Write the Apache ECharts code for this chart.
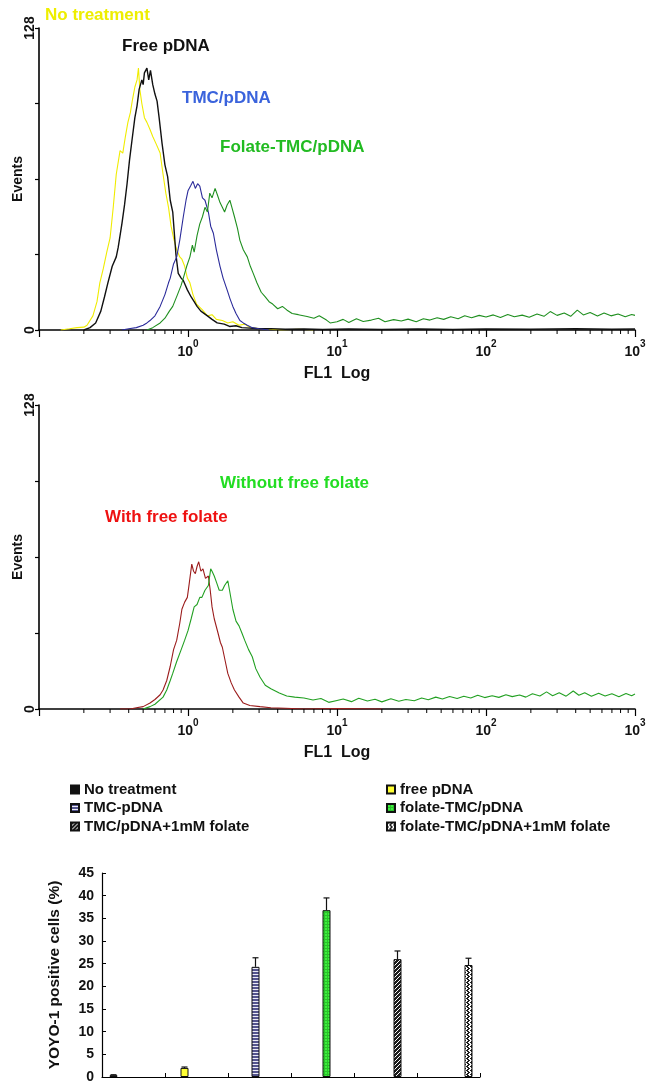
<!DOCTYPE html>
<html>
<head>
<meta charset="utf-8">
<script src="https://cdn.jsdelivr.net/npm/echarts@6/dist/echarts.min.js"></script>
<style>
  html, body { margin: 0; padding: 0; background: #fff; }
  #chart { width: 652px; height: 1082px; }
</style>
</head>
<body>
<div id="chart"></div>
<script>
// ---- histogram data: [FL1 value, events] ----
const noTreatment = [[0.14,0],[0.16,0.5],[0.18,1],[0.2,1.2],[0.21,2],[0.23,6],[0.245,12],[0.256,20],[0.27,26],[0.285,33],[0.3,39],[0.315,52],[0.33,66],[0.35,76],[0.365,75],[0.38,82],[0.395,88],[0.41,92],[0.425,98],[0.44,103],[0.455,106],[0.465,111],[0.475,102],[0.49,96],[0.51,90],[0.53,88],[0.556,85],[0.58,82],[0.61,79],[0.65,75],[0.68,66],[0.71,58],[0.74,52],[0.77,44],[0.8,39],[0.84,34],[0.88,31],[0.91,30],[0.95,27],[0.99,22],[1.03,20],[1.08,15],[1.14,11],[1.25,8.5],[1.35,6],[1.45,6.5],[1.55,4.5],[1.7,4],[1.85,3],[2.0,3.5],[2.2,2],[2.4,2.5],[2.6,1],[3.0,0.6],[3.5,0.3],[4.2,0],[5.5,0.3],[7,0]];
const freePdna = [[0.2,0],[0.22,1],[0.24,3],[0.26,8],[0.275,14],[0.29,20],[0.31,27],[0.33,31],[0.34,35],[0.36,45],[0.375,53],[0.39,62],[0.405,72],[0.42,80],[0.44,90],[0.455,95],[0.47,102],[0.49,106],[0.5,104],[0.51,109],[0.53,111],[0.545,106],[0.56,110],[0.58,104],[0.6,100],[0.62,97],[0.64,90],[0.67,79],[0.7,70],[0.73,65],[0.76,55],[0.79,50],[0.83,32],[0.86,24],[0.9,22],[0.93,21],[0.96,19],[0.99,17],[1.05,14],[1.1,12],[1.15,10],[1.22,8],[1.35,6],[1.45,4.5],[1.57,3],[1.75,2.5],[1.9,1.5],[2.1,1.8],[2.3,1],[2.6,0.8],[3,0.5],[3.6,0.6],[4.5,0.3],[6,0.4],[8,0.2],[12,0.4],[20,0.2],[35,0.4],[60,0.2],[100,0.4],[200,0.3],[400,0.5],[700,0.3],[1000,0.4]];
const tmcPdna = [[0.36,0],[0.4,0.5],[0.45,1],[0.5,2],[0.53,3],[0.556,4],[0.6,6],[0.65,10],[0.7,15],[0.74,20],[0.76,22],[0.8,28],[0.84,31],[0.88,38],[0.93,48],[0.97,55],[1.0,59],[1.04,61],[1.08,63],[1.12,60],[1.16,62],[1.2,61],[1.25,56],[1.3,55],[1.37,50],[1.42,44],[1.48,41],[1.55,34],[1.64,27],[1.72,22],[1.83,17],[1.92,13],[2.0,10],[2.1,7],[2.23,4],[2.35,3],[2.5,2],[2.7,1],[3,0.5],[3.5,0]];
const folateTmc = [[0.53,0],[0.58,1],[0.65,3],[0.7,5],[0.75,8],[0.79,10],[0.85,15],[0.9,19],[0.93,22],[0.98,27],[1.03,31],[1.07,36],[1.1,33],[1.15,40],[1.2,45],[1.25,48],[1.3,52],[1.35,50],[1.4,58],[1.45,56],[1.52,60],[1.58,57],[1.64,54],[1.7,52],[1.76,50],[1.83,53],[1.91,55],[1.97,52],[2.05,48],[2.15,43],[2.23,38],[2.35,34],[2.5,31],[2.62,27],[2.74,24],[2.9,20],[3.1,16],[3.3,14],[3.5,12],[3.7,11],[4.0,9],[4.3,10],[4.6,8.5],[5.0,7],[5.5,6.5],[6.3,5.7],[7,5],[7.6,6],[8.5,4.2],[9,3],[10,3.5],[11,4.5],[12,3.2],[13.5,4.8],[15,3.6],[17,4.2],[19,5],[21,3.5],[24,4.4],[27,3.8],[30,4.6],[34,3.5],[38,4.8],[42,4.2],[47,5.2],[52,4.5],[58,5.6],[65,4.8],[72,6],[80,5.2],[90,6.2],[100,5.5],[112,6.4],[125,5.3],[140,6.6],[155,5.6],[175,6.3],[195,5.4],[220,6.8],[245,5.8],[270,7.8],[300,6.2],[335,7.2],[370,5.8],[410,8.4],[450,6.4],[500,7.4],[560,5.9],[620,7.2],[690,6],[770,6.8],[860,5.6],[950,6.6],[1000,6.2]];
const withFolate = [[0.35,0],[0.41,0],[0.45,0.5],[0.5,1],[0.556,2.5],[0.6,4],[0.65,6],[0.68,8],[0.72,12],[0.76,18],[0.8,25],[0.84,29],[0.88,36],[0.91,42],[0.95,45],[0.99,47],[1.02,53],[1.06,61],[1.09,58],[1.12,57],[1.15,60],[1.18,62],[1.22,58],[1.26,59],[1.31,55],[1.37,56],[1.41,50],[1.45,43],[1.5,38],[1.59,32],[1.65,28],[1.7,26],[1.78,20],[1.85,15],[1.95,11],[2.05,8],[2.2,5],[2.35,2.5],[2.6,1.5],[3.04,1],[3.6,0.5],[4.5,0.3],[6,0],[10,0.2],[20,0]];
const withoutFolate = [[0.5,0],[0.556,1],[0.6,2],[0.68,5],[0.72,8],[0.76,12],[0.79,15],[0.84,20],[0.9,25],[0.95,29],[1.0,33],[1.05,38],[1.1,43],[1.15,44],[1.2,47],[1.24,47],[1.3,50],[1.37,52],[1.42,59],[1.45,58],[1.5,56],[1.56,53],[1.62,50],[1.7,50],[1.76,52],[1.85,54],[1.9,50],[2.0,42],[2.1,37],[2.2,35],[2.3,32],[2.4,29],[2.55,25],[2.7,22],[2.85,17],[3.04,13.5],[3.3,10],[3.6,8.5],[4.1,6.7],[4.6,5.5],[5.2,5],[6,4.6],[6.9,3.8],[7.8,4.4],[8.8,2.8],[10,3.6],[11,4.2],[12.5,3.1],[14,4.5],[16,3.4],[18,4.1],[20,3],[23,4.3],[26,3.3],[29,4],[33,3.5],[37,4.6],[41,3.9],[46,5],[51,4.2],[57,5.3],[64,4.4],[71,5.4],[79,4.6],[88,5.8],[98,4.8],[110,5.6],[122,4.9],[136,6],[150,5.2],[168,5.9],[185,5],[205,6.4],[230,5.5],[255,7.2],[280,5.6],[310,6.8],[345,5.4],[385,7.6],[420,5.8],[460,6.8],[510,5.4],[570,6.6],[630,5.5],[700,6.4],[780,5.2],[870,6.5],[950,5.6],[1000,6.3]];

// log axis minor ticks (2..9 in every decade)
const minorTicks = [0.2,0.3,0.4,0.5,0.6,0.7,0.8,0.9,2,3,4,5,6,7,8,9,20,30,40,50,60,70,80,90,200,300,400,500,600,700,800,900];
const eventTicksLabelled = [0, 128];

// ---- bar chart data ----
const groups = ['No treatment', 'free pDNA', 'TMC-pDNA', 'folate-TMC/pDNA', 'TMC/pDNA+1mM folate', 'folate-TMC/pDNA+1mM folate'];
const positivePct = [0.4, 2.0, 24.3, 36.8, 26.0, 24.7];
const positiveErr = [0.1, 0.2, 2.0, 2.7, 1.8, 1.5];

const FONT = '"Liberation Sans", Arial, sans-serif';
const BAR_W = 8;

function pattern(w, h, draw) {
  const c = document.createElement('canvas');
  c.width = w; c.height = h;
  draw(c.getContext('2d'));
  return { image: c, repeat: 'repeat' };
}

const barFills = [
  '#111111',
  '#ffff33',
  pattern(4, 3, ctx => {
    ctx.fillStyle = '#55558e'; ctx.fillRect(0, 0, 4, 3);
    ctx.fillStyle = '#ececf6'; ctx.fillRect(0, 2, 4, 1);
  }),
  pattern(3, 3, ctx => {
    ctx.fillStyle = '#3cf03c'; ctx.fillRect(0, 0, 3, 3);
    ctx.fillStyle = '#2cc02c'; ctx.fillRect(0, 0, 3, 1); ctx.fillRect(0, 0, 1, 3);
  }),
  pattern(4, 4, ctx => {
    ctx.fillStyle = '#1c1c1c'; ctx.fillRect(0, 0, 4, 4);
    ctx.fillStyle = '#ffffff';
    for (let i = 0; i < 4; i++) ctx.fillRect(3 - i, i, 1, 1);
  }),
  pattern(4, 4, ctx => {
    ctx.fillStyle = '#ffffff'; ctx.fillRect(0, 0, 4, 4);
    ctx.fillStyle = '#1c1c1c';
    for (let y = 0; y < 4; y++) {
      for (let x = 0; x < 4; x++) {
        const on = y < 2 ? (x + y) % 4 < 2 : (x - y + 8) % 4 < 2;
        if (on) ctx.fillRect(x, y, 1, 1);
      }
    }
  })
];

const chart = echarts.init(document.getElementById('chart'));

function histX(gridIndex) {
  return {
    type: 'log', gridIndex, min: 0.1, max: 1000, logBase: 10,
    name: 'FL1  Log', nameLocation: 'middle', nameGap: 36, nameMoveOverlap: false,
    nameTextStyle: { fontFamily: FONT, fontWeight: 'bold', fontSize: 16, color: '#111' },
    axisLine: { lineStyle: { color: '#000', width: 1.6 } },
    axisTick: { show: true, length: 7, lineStyle: { color: '#000', width: 1.2 } },
    splitLine: { show: false },
    axisLabel: {
      margin: 9,
      formatter: v => {
        const e = Math.round(Math.log10(v));
        return e < 0 ? '' : '{b|10}{s|' + e + '}';
      },
      rich: {
        b: { fontFamily: FONT, fontWeight: 'bold', fontSize: 14, color: '#111', lineHeight: 20, verticalAlign: 'bottom' },
        s: { fontFamily: FONT, fontWeight: 'bold', fontSize: 10, color: '#111', lineHeight: 20, verticalAlign: 'top' }
      }
    }
  };
}

function histY(gridIndex) {
  return {
    type: 'value', gridIndex, min: 0, max: 128, interval: 32,
    name: 'Events', nameLocation: 'middle', nameGap: 14, nameMoveOverlap: false,
    nameTextStyle: { fontFamily: FONT, fontWeight: 'bold', fontSize: 14, color: '#111' },
    axisLine: { show: true, lineStyle: { color: '#000', width: 1.6 } },
    axisTick: { show: true, length: 4, lineStyle: { color: '#000', width: 1.2 } },
    splitLine: { show: false },
    axisLabel: {
      rotate: 90, margin: 2,
      fontFamily: FONT, fontWeight: 'bold', fontSize: 14, color: '#111',
      formatter: v => eventTicksLabelled.includes(v) ? String(v) : ''
    }
  };
}

function histLine(data, color, axis, width) {
  return {
    type: 'line', data, xAxisIndex: axis, yAxisIndex: axis,
    showSymbol: false, symbol: 'none', animation: false,
    lineStyle: { color, width: width || 1.1 }, z: 3
  };
}

function minorTickSeries(axis) {
  return {
    type: 'custom', xAxisIndex: axis, yAxisIndex: axis, clip: false, silent: true,
    data: minorTicks.map(v => [v, 0]),
    renderItem: (params, api) => {
      const p = api.coord([api.value(0), 0]);
      return {
        type: 'line',
        shape: { x1: p[0], y1: p[1], x2: p[0], y2: p[1] + 4 },
        style: { stroke: '#000', lineWidth: 1 }
      };
    },
    z: 4
  };
}

const barSeries = groups.map((name, i) => ({
  name, type: 'bar', xAxisIndex: 2, yAxisIndex: 2,
  barWidth: BAR_W, barGap: '0%',
  data: positivePct.map((v, j) => (j === i ? v : '-')),
  itemStyle: { color: barFills[i], borderColor: '#111', borderWidth: 1 },
  animation: false
}));

const errorSeries = {
  type: 'custom', xAxisIndex: 2, yAxisIndex: 2, silent: true, clip: false,
  data: positivePct.map((v, i) => [i, v, positiveErr[i]]),
  renderItem: (params, api) => {
    const i = api.value(0);
    const v = api.value(1);
    const e = api.value(2);
    const base = api.coord([i, v]);
    const top = api.coord([i, v + e]);
    const x = base[0] + (i - (groups.length - 1) / 2) * BAR_W;
    return {
      type: 'group',
      children: [
        { type: 'line', shape: { x1: x, y1: base[1], x2: x, y2: top[1] }, style: { stroke: '#111', lineWidth: 1.2 } },
        { type: 'line', shape: { x1: x - 3, y1: top[1], x2: x + 3, y2: top[1] }, style: { stroke: '#111', lineWidth: 1.2 } }
      ]
    };
  },
  z: 5
};

function label(text, x, y, color, size) {
  return {
    type: 'text', x, y,
    style: { text, fill: color, font: 'bold ' + (size || 17) + 'px ' + FONT, verticalAlign: 'middle' }
  };
}

const legendText = { fontFamily: FONT, fontWeight: 'bold', fontSize: 15, color: '#111', lineHeight: 15 };

chart.setOption({
  animation: false,
  grid: [
    { left: 39, top: 28, width: 596, height: 302, containLabel: false, outerBoundsMode: 'none' },
    { left: 39, top: 405, width: 596, height: 304, containLabel: false, outerBoundsMode: 'none' },
    { left: 102, top: 873, width: 378, height: 204, containLabel: false, outerBoundsMode: 'none' }
  ],
  xAxis: [
    histX(0),
    histX(1),
    {
      type: 'category', gridIndex: 2, data: groups,
      axisLine: { lineStyle: { color: '#000', width: 1.2 } },
      axisTick: { show: true, inside: true, interval: 0, length: 4, lineStyle: { color: '#000' } },
      axisLabel: { show: false, interval: 0 }
    }
  ],
  yAxis: [
    histY(0),
    histY(1),
    {
      type: 'value', gridIndex: 2, min: 0, max: 45, interval: 5,
      name: 'YOYO-1 positive cells (%)', nameLocation: 'middle', nameGap: 39,
      nameTextStyle: { fontFamily: FONT, fontWeight: 'bold', fontSize: 15.5, color: '#111' },
      axisLine: { show: true, lineStyle: { color: '#000', width: 1.2 } },
      axisTick: { show: true, inside: true, length: 4, lineStyle: { color: '#000' } },
      splitLine: { show: false },
      axisLabel: { margin: 8, fontFamily: FONT, fontWeight: 'bold', fontSize: 14, color: '#111' }
    }
  ],
  legend: [
    {
      data: [groups[0], groups[2], groups[4]], orient: 'vertical', left: 70, top: 782,
      icon: 'rect', itemWidth: 8, itemHeight: 8, itemGap: 3.5, textStyle: legendText,
      selectedMode: false, padding: 0
    },
    {
      data: [groups[1], groups[3], groups[5]], orient: 'vertical', left: 386, top: 782,
      icon: 'rect', itemWidth: 8, itemHeight: 8, itemGap: 3.5, textStyle: legendText,
      selectedMode: false, padding: 0
    }
  ],
  graphic: [
    label('No treatment', 45, 15, '#eeee00'),
    label('Free pDNA', 122, 46, '#111111'),
    label('TMC/pDNA', 182, 98, '#3a63dc'),
    label('Folate-TMC/pDNA', 220, 147, '#22bb22'),
    label('Without free folate', 220, 483, '#22dd22'),
    label('With free folate', 105, 517, '#ee1111')
  ],
  series: [
    histLine(noTreatment, '#f0ec00', 0),
    histLine(freePdna, '#111111', 0, 1.4),
    histLine(tmcPdna, '#2b2b9a', 0),
    histLine(folateTmc, '#1f8f1f', 0),
    minorTickSeries(0),
    histLine(withFolate, '#9b1c1c', 1),
    histLine(withoutFolate, '#22a022', 1),
    minorTickSeries(1),
    ...barSeries,
    errorSeries
  ]
});
</script>
</body>
</html>
